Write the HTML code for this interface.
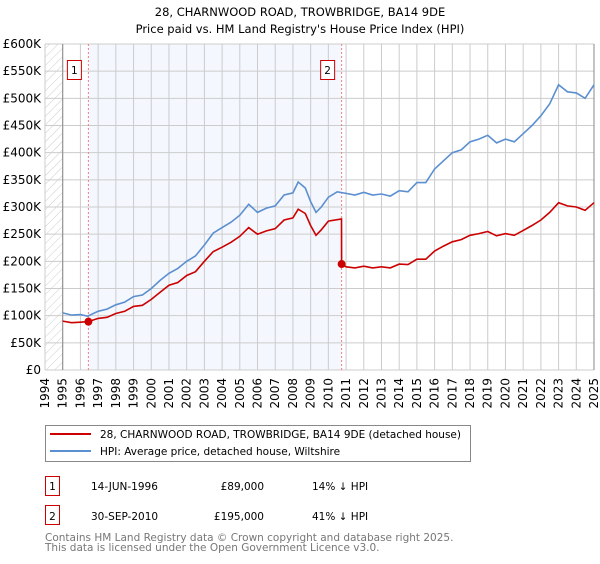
<!DOCTYPE html>
<html><head><meta charset="utf-8"><style>
body{margin:0;background:#fff;font-family:"DejaVu Sans","Liberation Sans",sans-serif;}
svg text{font-family:"DejaVu Sans","Liberation Sans",sans-serif;}
</style></head><body>
<svg id="c" width="600" height="560" xmlns="http://www.w3.org/2000/svg">
<defs><pattern id="hatch" width="6" height="6" patternUnits="userSpaceOnUse" patternTransform="rotate(45)"><line x1="0" y1="0" x2="0" y2="6" stroke="#ccc" stroke-width="1"/></pattern></defs>
<text x="300" y="16" text-anchor="middle" font-size="11.5">28, CHARNWOOD ROAD, TROWBRIDGE, BA14 9DE</text>
<text x="300" y="33" text-anchor="middle" font-size="11.5">Price paid vs. HM Land Registry's House Price Index (HPI)</text>
<g id="plot"></g>
<g>
<rect x="45.5" y="425.5" width="425" height="36" fill="#fff" stroke="#888"/>
<line x1="50" y1="434" x2="91" y2="434" stroke="#cc0000" stroke-width="2"/>
<text x="100" y="438" font-size="10.5">28, CHARNWOOD ROAD, TROWBRIDGE, BA14 9DE (detached house)</text>
<line x1="50" y1="451" x2="91" y2="451" stroke="#5b8fd0" stroke-width="2"/>
<text x="100" y="455" font-size="10.5">HPI: Average price, detached house, Wiltshire</text>
</g>
<g font-size="10.5">
<rect x="45.5" y="476.5" width="14" height="19" fill="#fff" stroke="#cc0000"/>
<text x="52.5" y="490" text-anchor="middle">1</text>
<text x="91" y="490">14-JUN-1996</text>
<text x="264" y="490" text-anchor="end">£89,000</text>
<text x="312" y="490">14% ↓ HPI</text>
<rect x="45.5" y="505.5" width="14" height="19" fill="#fff" stroke="#cc0000"/>
<text x="52.5" y="520" text-anchor="middle">2</text>
<text x="91" y="520">30-SEP-2010</text>
<text x="264" y="520" text-anchor="end">£195,000</text>
<text x="312" y="520">41% ↓ HPI</text>
</g>
<text x="45" y="541" font-size="10.5" fill="#777">Contains HM Land Registry data © Crown copyright and database right 2025.</text>
<text x="45" y="551" font-size="10.5" fill="#777">This data is licensed under the Open Government Licence v3.0.</text>
</svg>
<script>
const hpiYears=[1995,1995.5,1996,1996.4,1997,1997.5,1998,1998.5,1999,1999.5,2000,2000.5,2001,2001.5,2002,2002.5,2003,2003.5,2004,2004.5,2005,2005.5,2006,2006.5,2007,2007.5,2008,2008.3,2008.7,2009,2009.3,2009.6,2010,2010.5,2011,2011.5,2012,2012.5,2013,2013.5,2014,2014.5,2015,2015.5,2016,2016.5,2017,2017.5,2018,2018.5,2019,2019.5,2020,2020.5,2021,2021.5,2022,2022.5,2023,2023.5,2024,2024.5,2025];
const hpiValues=[105,101,102,99,108,112,120,125,135,138,150,165,178,187,200,210,230,252,262,272,285,305,290,298,302,322,326,346,335,310,290,300,318,328,325,322,327,322,324,320,330,328,345,345,370,385,400,405,420,425,432,418,425,420,435,450,468,490,525,512,510,500,525];
const priceYears=[1995,1995.5,1996,1996.45,1997,1997.5,1998,1998.5,1999,1999.5,2000,2000.5,2001,2001.5,2002,2002.5,2003,2003.5,2004,2004.5,2005,2005.5,2006,2006.5,2007,2007.5,2008,2008.3,2008.7,2009,2009.3,2009.6,2010,2010.74,2010.75,2011,2011.5,2012,2012.5,2013,2013.5,2014,2014.5,2015,2015.5,2016,2016.5,2017,2017.5,2018,2018.5,2019,2019.5,2020,2020.5,2021,2021.5,2022,2022.5,2023,2023.5,2024,2024.5,2025];
const priceValues=[90,87,88,89,95,97,104,108,117,119,130,143,156,161,174,181,200,218,226,235,246,262,250,256,260,276,280,296,288,266,248,258,274,278,195,190,188,191,188,190,188,195,194,204,204,219,228,236,240,248,251,255,247,251,248,257,266,276,290,308,302,300,294,308];
const yTicks=[0,50,100,150,200,250,300,350,400,450,500,550,600];
const yTickLabels=["£0","£50K","£100K","£150K","£200K","£250K","£300K","£350K","£400K","£450K","£500K","£550K","£600K"];
const xTicks=[1994,1995,1996,1997,1998,1999,2000,2001,2002,2003,2004,2005,2006,2007,2008,2009,2010,2011,2012,2013,2014,2015,2016,2017,2018,2019,2020,2021,2022,2023,2024,2025];
const sales=[{n:"1",year:1996.45,value:89},{n:"2",year:2010.75,value:195}];
const X0=45,X1=594,Y0=370,Y1=44;
const sx=y=>X0+(y-1994)/(2025-1994)*(X1-X0);
const sy=v=>Y0-v/600*(Y0-Y1);
const NS="http://www.w3.org/2000/svg";
const g=document.getElementById('plot');
function mk(t,a){const e=document.createElementNS(NS,t);for(const k in a)e.setAttribute(k,a[k]);g.appendChild(e);return e;}
let r=mk('rect',{x:X0,y:Y1,width:sx(1995)-X0,height:Y0-Y1,fill:'url(#hatch)'});


r=mk('rect',{x:sx(sales[0].year),y:Y1,width:sx(sales[1].year)-sx(sales[0].year),height:Y0-Y1,fill:'#f4f7fd'});


xTicks.forEach(t=>{const l=mk('line',{x1:sx(t),x2:sx(t),y1:Y1,y2:Y0,stroke:'#ccc'});


const tx=mk('text',{x:0,y:0,'font-size':12,'text-anchor':'end',transform:`translate(${sx(t)+4},${Y0+8}) rotate(-90)`});tx.textContent=t;

});
yTicks.forEach((t,i)=>{const l=mk('line',{x1:X0,x2:X1,y1:sy(t),y2:sy(t),stroke:'#ccc'});


const tx=mk('text',{x:X0-4,y:sy(t)+4,'font-size':12,'text-anchor':'end'});tx.textContent=yTickLabels[i];

});
let a=mk('line',{x1:sx(1995),x2:sx(1995),y1:Y1,y2:Y0,stroke:'#888'});


a=mk('line',{x1:X1,x2:X1,y1:Y1,y2:Y0,stroke:'#888'});


sales.forEach(s=>{const l=mk('line',{x1:sx(s.year),x2:sx(s.year),y1:Y1,y2:Y0,stroke:'#f08080','stroke-dasharray':'2,2'});


const b=mk('rect',{x:sx(s.year)-21,y:60.5,width:14,height:19,fill:'#fff',stroke:'#cc0000'});


const t=mk('text',{x:sx(s.year)-14,y:74,'font-size':10.5,'text-anchor':'middle'});t.textContent=s.n;

});
const path=(xs,vs)=>xs.map((x,i)=>(i?'L':'M')+sx(x).toFixed(1)+','+sy(vs[i]).toFixed(1)).join('');
let p=mk('path',{d:path(hpiYears,hpiValues),fill:'none',stroke:'#5b8fd0','stroke-width':1.6});


p=mk('path',{d:path(priceYears,priceValues),fill:'none',stroke:'#cc0000','stroke-width':1.6});


sales.forEach(s=>{const c=mk('circle',{cx:sx(s.year),cy:sy(s.value),r:4,fill:'#cc0000'});

});
</script>
</body></html>
